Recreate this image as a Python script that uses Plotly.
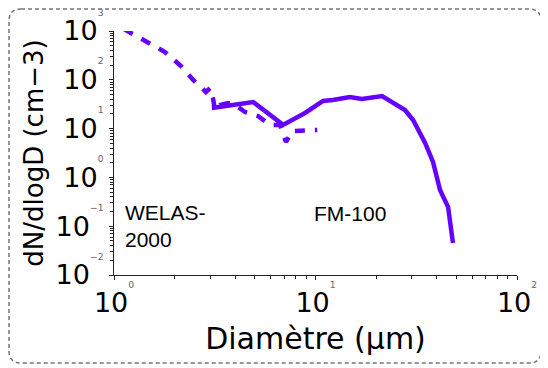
import plotly.graph_objects as go

# ---- data ----
welas_d = [1.12, 1.44, 1.79, 2.15, 2.47, 2.73, 2.86, 3.00, 3.10, 3.17, 3.36, 3.68, 3.99, 4.47, 5.18, 5.95, 6.67, 7.14, 7.64, 10.2]
welas_n = [1096, 624, 371, 192, 99, 68, 56, 68, 42, 24, 30.5, 33.5, 30.5, 21.9, 18.1, 11.9, 11.9, 5.31, 8.93, 9.36]

fm_d = [3.06, 3.76, 4.90, 6.90, 8.87, 10.9, 12.2, 14.8, 17.0, 21.4, 25.4, 27.8, 30.5, 35.0, 38.3, 41.5, 45.5, 48.1]
fm_n = [26.4, 30.5, 35.1, 11.9, 20.9, 36.8, 38.5, 44.4, 40.4, 46.6, 30.5, 24.0, 15.0, 5.07, 2.07, 0.552, 0.247, 0.0453]

x_tickvals = [1, 10, 100]
x_exponents = ["0", "1", "2"]
y_tickvals = [0.01, 0.1, 1, 10, 100, 1000]
y_exponents = ["−2", "−1", "0", "1", "2", "3"]

x_title = "Diamètre (µm)"
y_title = "dN/dlogD (cm−3)"
label_welas = "WELAS-<br>2000"
label_fm = "FM-100"

COLOR = "#6600ff"


def tick_text(exp):
    return "10<sup><sup><sup><span style='fill:#666666'>" + exp + "</span></sup></sup></sup>"


fig = go.Figure()
fig.add_trace(go.Scatter(x=welas_d, y=welas_n, mode="lines",
                         line=dict(color=COLOR, width=4.5, dash="10px,10px"),
                         showlegend=False))
fig.add_trace(go.Scatter(x=fm_d, y=fm_n, mode="lines",
                         line=dict(color=COLOR, width=4.5),
                         showlegend=False))

# page body has an 8px margin: figure is offset by OFF in the window
OFF = 8
W, H = 540, 360
L, T = 114 - OFF, 31 - OFF
pw, ph = 403, 244
R, B = W - L - pw, H - T - ph


def px(xp):
    return (xp - OFF - L) / pw


def py(yp):
    return (T + ph - (yp - OFF)) / ph


# rounded dashed frame around the figure
x0, x1, y0, y1 = px(OFF + 1), px(541), py(OFF + 1), py(363)
rx, ry = 12 / pw, 12 / ph
path = (f"M {x0+rx},{y0} L {x1-rx},{y0} Q {x1},{y0} {x1},{y0-ry} "
        f"L {x1},{y1+ry} Q {x1},{y1} {x1-rx},{y1} "
        f"L {x0+rx},{y1} Q {x0},{y1} {x0},{y1+ry} "
        f"L {x0},{y0-ry} Q {x0},{y0} {x0+rx},{y0} Z")
fig.add_shape(type="path", path=path, xref="paper", yref="paper",
              line=dict(color="#777777", width=1.5, dash="4px,3px"))

fig.add_annotation(x=0.0447, y=-0.986, xref="x", yref="y", text=label_welas,
                   showarrow=False, xanchor="left", yanchor="middle", align="left",
                   font=dict(family="Liberation Sans", size=21, color="black"))
fig.add_annotation(x=0.9826, y=-0.73, xref="x", yref="y", text=label_fm,
                   showarrow=False, xanchor="left", yanchor="middle", align="left",
                   font=dict(family="Liberation Sans", size=21, color="black"))

axis_common = dict(
    type="log", showgrid=False, zeroline=False, showline=True,
    linecolor="#222222", linewidth=1, ticks="outside", ticklen=4,
    tickcolor="#222222", tickfont=dict(family="DejaVu Sans", size=27, color="black"),
    mirror=False, ticklabeloverflow="allow",
)

fig.update_xaxes(range=[0, 2], tickmode="array", tickvals=x_tickvals,
                 ticktext=[tick_text(e) for e in x_exponents],
                 minor=dict(ticks="outside", ticklen=3, tickcolor="#222222",
                            tickvals=[2, 3, 4, 5, 6, 7, 8, 9, 20, 30, 40, 50, 60, 70, 80, 90]),
                 title=dict(text=x_title, font=dict(family="DejaVu Sans", size=30, color="black"),
                            standoff=10),
                 **axis_common)
fig.update_yaxes(range=[-2, 3], tickmode="array", tickvals=y_tickvals,
                 ticktext=[tick_text(e) for e in y_exponents],
                 minor=dict(ticks="outside", ticklen=3, tickcolor="#222222",
                            tickvals=[v * m for v in [0.01, 0.1, 1, 10, 100] for m in range(2, 10)]),
                 title=dict(text=y_title, font=dict(family="DejaVu Sans", size=26, color="black"),
                            standoff=4),
                 **axis_common)

fig.update_layout(width=W, height=H, margin=dict(l=L, r=R, t=T, b=B, autoexpand=False),
                  paper_bgcolor="white", plot_bgcolor="white", showlegend=False)

fig.write_html("out.html")
